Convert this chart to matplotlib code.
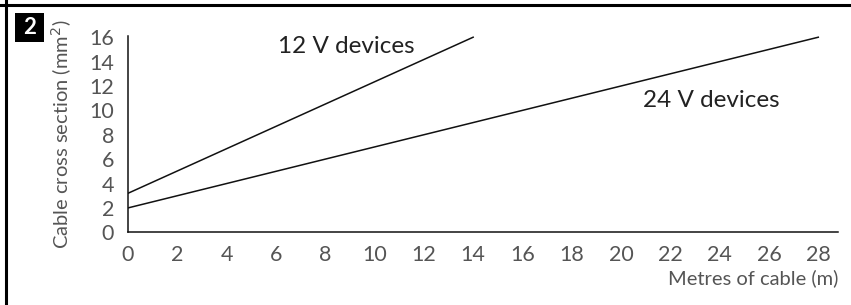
import matplotlib
matplotlib.use('Agg')
import matplotlib.pyplot as plt
from matplotlib.lines import Line2D
from matplotlib.patches import Rectangle

# data
metres_12v = [0, 14]
section_12v = [3.2, 16]
metres_24v = [0, 28]
section_24v = [2.0, 16]
x_ticks = list(range(0, 29, 2))
y_ticks = list(range(0, 17, 2))

plt.rcParams['font.family'] = ['Lato', 'DejaVu Sans']
grey = '#555555'

W, H = 851, 305
fig = plt.figure(figsize=(W / 100, H / 100), dpi=100)
ax = fig.add_axes([128 / W, 1 - 232.3 / H, (838 - 128) / W, (232.3 - 36) / H])

ax.plot(metres_12v, section_12v, color='#111111', lw=1.1)
ax.plot(metres_24v, section_24v, color='#111111', lw=1.1)

ax.set_xlim(0, 28.8)
ax.set_ylim(0, 16.1)
ax.set_xticks(x_ticks)
ax.set_yticks(y_ticks)
ax.tick_params(length=0, labelsize=15.5, labelcolor=grey)
ax.tick_params(axis='y', pad=10)
ax.tick_params(axis='x', pad=9)
for s in ['top', 'right']:
    ax.spines[s].set_visible(False)
for s in ['left', 'bottom']:
    ax.spines[s].set_linewidth(1.1)
    ax.spines[s].set_color('#111111')

ax.set_ylabel('Cable cross section (mm$^2$)', fontsize=14.5, color=grey)
ax.yaxis.set_label_coords(-(128 - 74) / (838 - 128), 0.5)
ax.text(1.0, -(278 - 232.3) / (232.3 - 36), 'Metres of cable (m)', transform=ax.transAxes,
        ha='right', va='center', fontsize=14.5, color=grey)

ax.text(6.1, 15.2, '12 V devices', fontsize=17.5, color='#222222', va='center', ha='left')
ax.text(20.9, 10.8, '24 V devices', fontsize=17.5, color='#222222', va='center', ha='left')

# frame lines (top and left) and the number badge
fig.add_artist(Line2D([0, 1], [1 - 5 / H, 1 - 5 / H], transform=fig.transFigure, color='black', lw=2.2))
fig.add_artist(Line2D([5.5 / W, 5.5 / W], [0, 1], transform=fig.transFigure, color='black', lw=2.2))
fig.add_artist(Rectangle((15 / W, 1 - 42 / H), 29 / W, 29 / H, transform=fig.transFigure,
                         fc='black', ec='none'))
fig.text(29.5 / W, 1 - 27.5 / H, '2', color='white', fontsize=16, fontweight='bold',
         ha='center', va='center')

fig.savefig('out.png', dpi=100)
